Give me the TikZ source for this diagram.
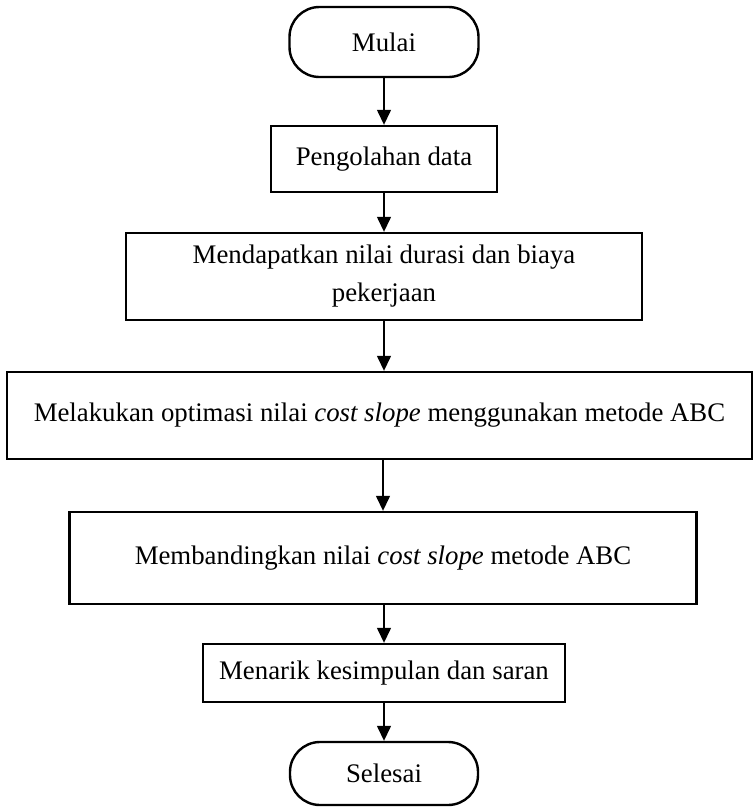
\documentclass[tikz,border=0pt]{standalone}
\usepackage{fontspec}
\setmainfont{Liberation Serif}
\usetikzlibrary{arrows.meta}
\tikzset{
  boxnode/.style={draw, line width=2.4pt, inner sep=0pt, align=center,
    font=\fontsize{26.8}{38}\selectfont},
  termnode/.style={boxnode, rounded corners=30pt},
  arr/.style={line width=1.4pt, -{Triangle[width=14pt,length=15pt]}}
}
\begin{document}
\begin{tikzpicture}[x=1pt,y=-1pt]
\useasboundingbox (0,0) rectangle (754,807);
\node[termnode, minimum width=189pt, minimum height=70pt] (mulai) at (384,42) {Mulai};
\node[boxnode, minimum width=226pt, minimum height=66pt] (olah) at (384,159) {Pengolahan data};
\node[boxnode, minimum width=516pt, minimum height=87pt] (dapat) at (384,276.5) {Mendapatkan nilai durasi dan biaya\\pekerjaan};
\node[boxnode, minimum width=745pt, minimum height=87pt] (optim) at (379.5,415.5) {Melakukan optimasi nilai \textit{cost slope} menggunakan metode ABC};
\node[boxnode, minimum width=627pt, minimum height=92pt] (banding) at (383,558) {Membandingkan nilai \textit{cost slope} metode ABC};
\node[boxnode, minimum width=362pt, minimum height=58pt] (tarik) at (384,673) {Menarik kesimpulan dan saran};
\node[termnode, minimum width=188pt, minimum height=63pt] (selesai) at (384,773.5) {Selesai};
\draw[arr] (mulai.south -| olah.north) -- (olah.north);
\draw[arr] (olah.south) -- (olah.south |- dapat.north);
\draw[arr] (dapat.south) -- (dapat.south |- optim.north);
\draw[arr] (optim.south -| banding.north) -- (banding.north);
\draw[arr] (banding.south -| tarik.north) -- (tarik.north);
\draw[arr] (tarik.south -| selesai.north) -- (selesai.north);
\end{tikzpicture}
\end{document}
